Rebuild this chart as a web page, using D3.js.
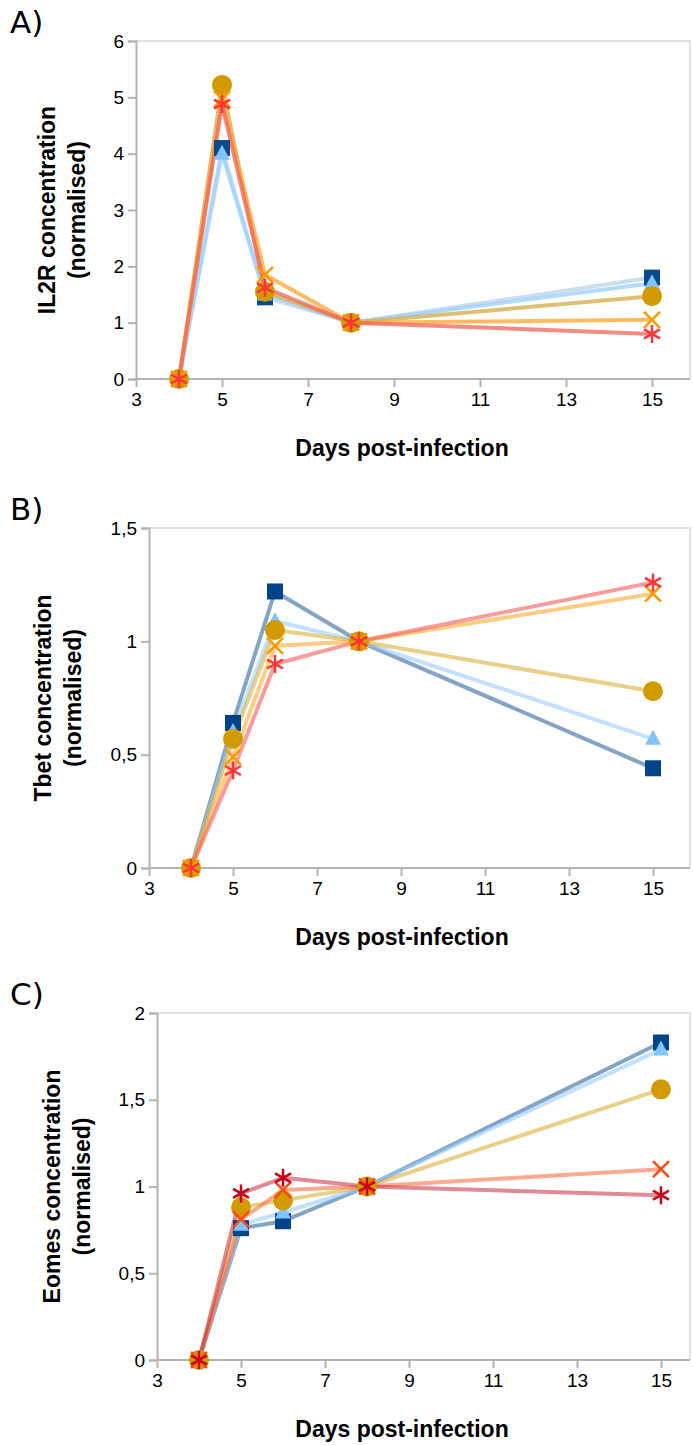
<!DOCTYPE html>
<html><head><meta charset="utf-8">
<script src="https://cdn.jsdelivr.net/npm/d3@7"></script>
<style>body{margin:0;background:#fff}</style>
</head><body>
<svg id="chart" width="693" height="1445"></svg>
<script>
const days = [4, 5, 6, 8, 15];
const xTicks = [3, 5, 7, 9, 11, 13, 15];

// panel A: IL2R
const il2rSquare = [0, 4.1, 1.45, 1, 1.8];
const il2rTriangle = [0, 4.0, 1.5, 1, 1.7];
const il2rCircle = [0, 5.22, 1.55, 1, 1.47];
const il2rCross = [0, 4.97, 1.85, 1, 1.05];
const il2rStar = [0, 4.88, 1.62, 1, 0.8];
const il2rTicks = [0, 1, 2, 3, 4, 5, 6];

// panel B: Tbet
const tbetSquare = [0, 0.64, 1.22, 1, 0.44];
const tbetTriangle = [0, 0.6, 1.09, 1, 0.57];
const tbetCircle = [0, 0.57, 1.05, 1, 0.78];
const tbetCross = [0, 0.49, 0.98, 1, 1.21];
const tbetStar = [0, 0.43, 0.9, 1, 1.26];
const tbetTicks = [0, 0.5, 1, 1.5];

// panel C: Eomes
const eomesSquare = [0, 0.76, 0.8, 1, 1.83];
const eomesTriangle = [0, 0.78, 0.85, 1, 1.79];
const eomesCircle = [0, 0.88, 0.92, 1, 1.56];
const eomesCross = [0, 0.81, 0.98, 1, 1.1];
const eomesStar = [0, 0.96, 1.05, 1, 0.95];
const eomesTicks = [0, 0.5, 1, 1.5, 2];

const svg = d3.select('#chart');
const fmt = v => String(v).replace('.', ',');

function panel(o) {
    const x = d3.scaleLinear().domain([3, 16]).range([o.left, o.left + 13 * o.unit]);
    const y = d3.scaleLinear().domain([0, o.max]).range([o.bottom, o.top]);
    const g = svg.append('g');
    const right = 690;

    // frame
    g.append('path').attr('d', `M${o.left},${o.top}H${right}V${o.bottom}`)
        .attr('fill', 'none').attr('stroke', '#d9d9d9').attr('stroke-width', 1.5);

    const ya = g.append('g').attr('transform', `translate(${o.left},0)`)
        .call(d3.axisLeft(y).tickValues(o.ticks).tickFormat(fmt).tickSize(8).tickPadding(4));
    const xa = g.append('g').attr('transform', `translate(0,${o.bottom})`)
        .call(d3.axisBottom(x).tickValues(xTicks).tickSize(8).tickPadding(6));
    xa.select('.domain').attr('d', `M${o.left},0H${right}`);
    for (const a of [ya, xa]) {
        a.selectAll('path,line').attr('stroke', '#b3b3b3').attr('stroke-width', 2);
        a.selectAll('text').attr('font-family', 'Liberation Sans, Arial, sans-serif')
            .attr('font-size', 19).attr('fill', '#000');
    }

    g.append('text').attr('x', 10).attr('y', o.top - 8).text(o.letter)
        .attr('font-family', 'DejaVu Sans, sans-serif').attr('font-size', 31);
    g.append('text').attr('x', 402).attr('y', o.bottom + 77).attr('text-anchor', 'middle')
        .text('Days post-infection').attr('font-family', 'Liberation Sans, Arial, sans-serif')
        .attr('font-weight', 'bold').attr('font-size', 23);
    const t = g.append('text').attr('transform', `translate(${o.titleX},${(o.top + o.bottom) / 2}) rotate(-90)`)
        .attr('text-anchor', 'middle').attr('font-family', 'Liberation Sans, Arial, sans-serif')
        .attr('font-weight', 'bold').attr('font-size', 23);
    t.append('tspan').attr('x', 0).attr('dy', 0).text(o.ytitle);
    t.append('tspan').attr('x', 0).attr('dy', 30).text('(normalised)');

    const line = d3.line().x(d => x(d[0])).y(d => y(d[1]));
    o.series.forEach(s => {
        const pts = days.map((d, i) => [d, s.values[i]]);
        g.append('path').attr('d', line(pts)).attr('fill', 'none')
            .attr('stroke', s.line).attr('stroke-width', 4).attr('stroke-linejoin', 'round');
    });
    o.series.forEach(s => {
        days.forEach((d, i) => {
            const cx = x(d), cy = y(s.values[i]);
            if (s.shape === 'square') {
                g.append('rect').attr('x', cx - 8).attr('y', cy - 8).attr('width', 16).attr('height', 16).attr('fill', s.color);
            } else if (s.shape === 'triangle') {
                g.append('path').attr('d', `M${cx},${cy - 9}L${cx + 8},${cy + 6}L${cx - 8},${cy + 6}Z`).attr('fill', s.color);
            } else if (s.shape === 'circle') {
                g.append('circle').attr('cx', cx).attr('cy', cy).attr('r', 10).attr('fill', s.color);
            } else if (s.shape === 'cross') {
                g.append('path').attr('d', `M${cx - 8},${cy - 8}L${cx + 8},${cy + 8}M${cx + 8},${cy - 8}L${cx - 8},${cy + 8}`)
                    .attr('stroke', s.color).attr('stroke-width', 2.5);
            } else {
                g.append('path').attr('d', `M${cx},${cy - 9}V${cy + 9}M${cx - 8},${cy - 4.5}L${cx + 8},${cy + 4.5}M${cx + 8},${cy - 4.5}L${cx - 8},${cy + 4.5}`)
                    .attr('stroke', s.color).attr('stroke-width', 2.5);
            }
        });
    });
}

panel({
    letter: 'A)', top: 41, bottom: 379, left: 136, unit: 43, max: 6, ticks: il2rTicks,
    ytitle: 'IL2R concentration', titleX: 55,
    series: [
        {values: il2rSquare, shape: 'square', color: '#0a4a8c', line: 'rgba(170,200,225,0.6)'},
        {values: il2rTriangle, shape: 'triangle', color: '#80c4ff', line: 'rgba(160,210,255,0.8)'},
        {values: il2rCircle, shape: 'circle', color: '#d19a00', line: 'rgba(215,175,80,0.8)'},
        {values: il2rCross, shape: 'cross', color: '#ff9800', line: 'rgba(255,170,60,0.8)'},
        {values: il2rStar, shape: 'star', color: '#ff3535', line: 'rgba(240,100,90,0.75)'}
    ]
});
panel({
    letter: 'B)', top: 528, bottom: 868, left: 149, unit: 42, max: 1.5, ticks: tbetTicks,
    ytitle: 'Tbet concentration', titleX: 51,
    series: [
        {values: tbetSquare, shape: 'square', color: '#034387', line: 'rgba(30,90,150,0.55)'},
        {values: tbetTriangle, shape: 'triangle', color: '#80c4ff', line: 'rgba(150,205,255,0.6)'},
        {values: tbetCircle, shape: 'circle', color: '#d19a00', line: 'rgba(215,170,40,0.55)'},
        {values: tbetCross, shape: 'cross', color: '#ff9800', line: 'rgba(255,170,50,0.6)'},
        {values: tbetStar, shape: 'star', color: '#ff3535', line: 'rgba(245,90,90,0.6)'}
    ]
});
panel({
    letter: 'C)', top: 1013, bottom: 1360, left: 157, unit: 42, max: 2, ticks: eomesTicks,
    ytitle: 'Eomes concentration', titleX: 60,
    series: [
        {values: eomesSquare, shape: 'square', color: '#034387', line: 'rgba(30,90,150,0.55)'},
        {values: eomesTriangle, shape: 'triangle', color: '#80c4ff', line: 'rgba(150,205,255,0.6)'},
        {values: eomesCircle, shape: 'circle', color: '#d19a00', line: 'rgba(215,170,40,0.55)'},
        {values: eomesCross, shape: 'cross', color: '#ff4a10', line: 'rgba(255,110,70,0.6)'},
        {values: eomesStar, shape: 'star', color: '#c8001a', line: 'rgba(200,40,60,0.55)'}
    ]
});
</script>
</body></html>
